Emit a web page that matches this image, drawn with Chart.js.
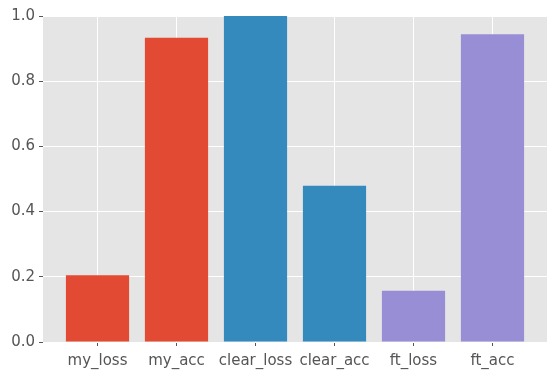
<!DOCTYPE html>
<html>
<head>
<meta charset="utf-8">
<script src="https://cdn.jsdelivr.net/npm/chart.js@4/dist/chart.umd.min.js"></script>
<style>
  html, body { margin: 0; padding: 0; background: #fff; }
  #wrap { width: 556px; height: 378px; }
</style>
</head>
<body>
<div id="wrap"><canvas id="chart"></canvas></div>
<script>
// categories and values
const categories = ['my_loss', 'my_acc', 'clear_loss', 'clear_acc', 'ft_loss', 'ft_acc'];
const values = [0.205, 0.933, 1.0, 0.479, 0.157, 0.944];
const barColors = ['#E24A33', '#E24A33', '#348ABD', '#348ABD', '#988ED5', '#988ED5'];
const yTicks = [0.0, 0.2, 0.4, 0.6, 0.8, 1.0];

// grey panel like ggplot style
const panelBackground = {
    id: 'panelBackground',
    beforeDraw(chart) {
        const { ctx, chartArea } = chart;
        ctx.save();
        ctx.fillStyle = '#E5E5E5';
        ctx.fillRect(chartArea.left, chartArea.top, chartArea.right - chartArea.left, chartArea.bottom - chartArea.top);
        ctx.restore();
    }
};

const ctx = document.getElementById('chart').getContext('2d');
new Chart(ctx, {
    type: 'bar',
    data: {
        datasets: [{
            data: values.map((v, i) => ({ x: i, y: v })),
            backgroundColor: barColors,
            borderWidth: 0,
            barPercentage: 1.0,
            categoryPercentage: 0.8,
        }],
    },
    options: {
        responsive: true,
        maintainAspectRatio: false,
        animation: false,
        layout: { padding: { left: 0, top: 16, right: 9, bottom: 0 } },
        plugins: {
            legend: { display: false },
            tooltip: { enabled: false },
        },
        scales: {
            x: {
                type: 'linear',
                offset: false,
                min: -0.69,
                max: 5.69,
                afterBuildTicks: (axis) => {
                    axis.ticks = categories.map((c, i) => ({ value: i }));
                },
                afterFit: (axis) => { axis.height = 36; },
                ticks: {
                    callback: (v) => categories[v],
                    color: '#555555',
                    font: { family: 'DejaVu Sans', size: 15 },
                    padding: 6,
                    maxRotation: 0,
                    autoSkip: false,
                },
                grid: {
                    offset: false,
                    color: '#FFFFFF',
                    lineWidth: 1,
                    tickColor: '#555555',
                    tickLength: 4,
                },
                border: { display: false },
            },
            y: {
                min: 0,
                max: 1,
                afterBuildTicks: (axis) => {
                    axis.ticks = yTicks.map((v) => ({ value: v }));
                },
                afterFit: (axis) => { axis.width = 43; },
                ticks: {
                    callback: (v) => v.toFixed(1),
                    color: '#555555',
                    font: { family: 'DejaVu Sans', size: 15 },
                    padding: 4,
                },
                grid: {
                    color: '#FFFFFF',
                    lineWidth: 1,
                    tickColor: '#555555',
                    tickLength: 4,
                },
                border: { display: false },
            },
        },
    },
    plugins: [panelBackground],
});
</script>
</body>
</html>
